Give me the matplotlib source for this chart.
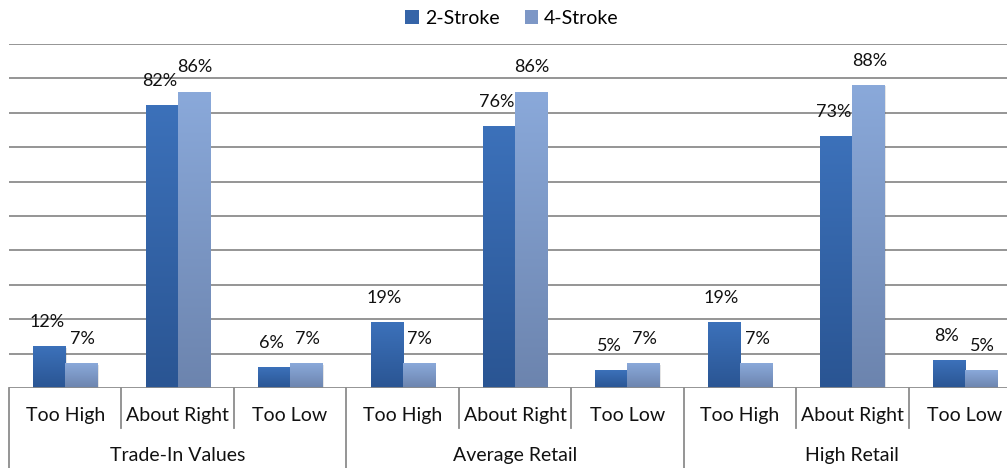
import matplotlib.pyplot as plt
import numpy as np
from matplotlib.colors import LinearSegmentedColormap
from matplotlib.patches import Patch

plt.rcParams['font.family'] = ['Lato', 'DejaVu Sans']

groups = ['Trade-In Values', 'Average Retail', 'High Retail']
answers = ['Too High', 'About Right', 'Too Low']
two_stroke = [12, 82, 6, 19, 76, 5, 19, 73, 8]
four_stroke = [7, 86, 7, 7, 86, 7, 7, 88, 5]
series = ['2-Stroke', '4-Stroke']

dark_cm = LinearSegmentedColormap.from_list('d', ['#2a5593', '#3c71ba'])
light_cm = LinearSegmentedColormap.from_list('l', ['#6c84ae', '#8aa9da'])

fig = plt.figure(figsize=(10.07, 4.68), dpi=100)
ax = fig.add_axes([9 / 1007, 80 / 468, 1012 / 1007, 344 / 468])

n = len(two_stroke)
x = np.arange(n)
w = 0.285

ax.set_xlim(-0.5, n - 0.5)
ax.set_ylim(0, 100)
for g in range(10, 101, 10):
    ax.axhline(g, color='#8c8c8c', lw=1.3, zorder=0)
ax.axhline(0, color='#8c8c8c', lw=1.3, zorder=3)


def gradient_bar(x0, h, cmap):
    grad = np.linspace(0, 1, 128).reshape(-1, 1)
    # soft shadow on the right
    ax.bar(x0 + 0.012, h, w, bottom=-0.3, align='edge', color='#000000', alpha=0.10, zorder=1)
    ax.imshow(grad, cmap=cmap, aspect='auto', origin='lower',
              extent=(x0, x0 + w, 0, h), zorder=2, interpolation='bilinear')


for i in range(n):
    gradient_bar(x[i] - w, two_stroke[i], dark_cm)
    gradient_bar(x[i], four_stroke[i], light_cm)
    ax.text(x[i] - w / 2 - 0.02, two_stroke[i] + 7.2, f'{two_stroke[i]}%',
            ha='center', va='center', fontsize=13, color='#111111', zorder=4)
    ax.text(x[i] + w / 2 + 0.01, four_stroke[i] + 7.2, f'{four_stroke[i]}%',
            ha='center', va='center', fontsize=13, color='#111111', zorder=4)

ax.set_xlim(-0.5, n - 0.5)
ax.set_ylim(0, 100)
ax.set_xticks([])
ax.set_yticks([])
for s in ax.spines.values():
    s.set_visible(False)

# two-level category axis below the plot
trans = ax.get_xaxis_transform()
for i in range(n):
    ax.text(x[i], -0.08, answers[i % 3], transform=trans, ha='center', va='center',
            fontsize=14, color='#111111', clip_on=False)
for b in range(n + 1):
    long_tick = b % 3 == 0
    ax.plot([b - 0.5, b - 0.5], [0, -0.235 if long_tick else -0.117], transform=trans,
            color='#8c8c8c', lw=1.3, clip_on=False)
for g, name in enumerate(groups):
    ax.text(3 * g + 1, -0.197, name, transform=trans, ha='center', va='center',
            fontsize=14, color='#111111', clip_on=False)

handles = [Patch(facecolor='#3564a8'), Patch(facecolor='#7d97c6')]
fig.legend(handles, series, loc='center', bbox_to_anchor=(512 / 1007, 1 - 18 / 468),
           ncol=2, frameon=False, fontsize=14, handlelength=0.7, handleheight=0.7,
           handletextpad=0.3, columnspacing=1.3)

fig.savefig('out.png', dpi=100)
